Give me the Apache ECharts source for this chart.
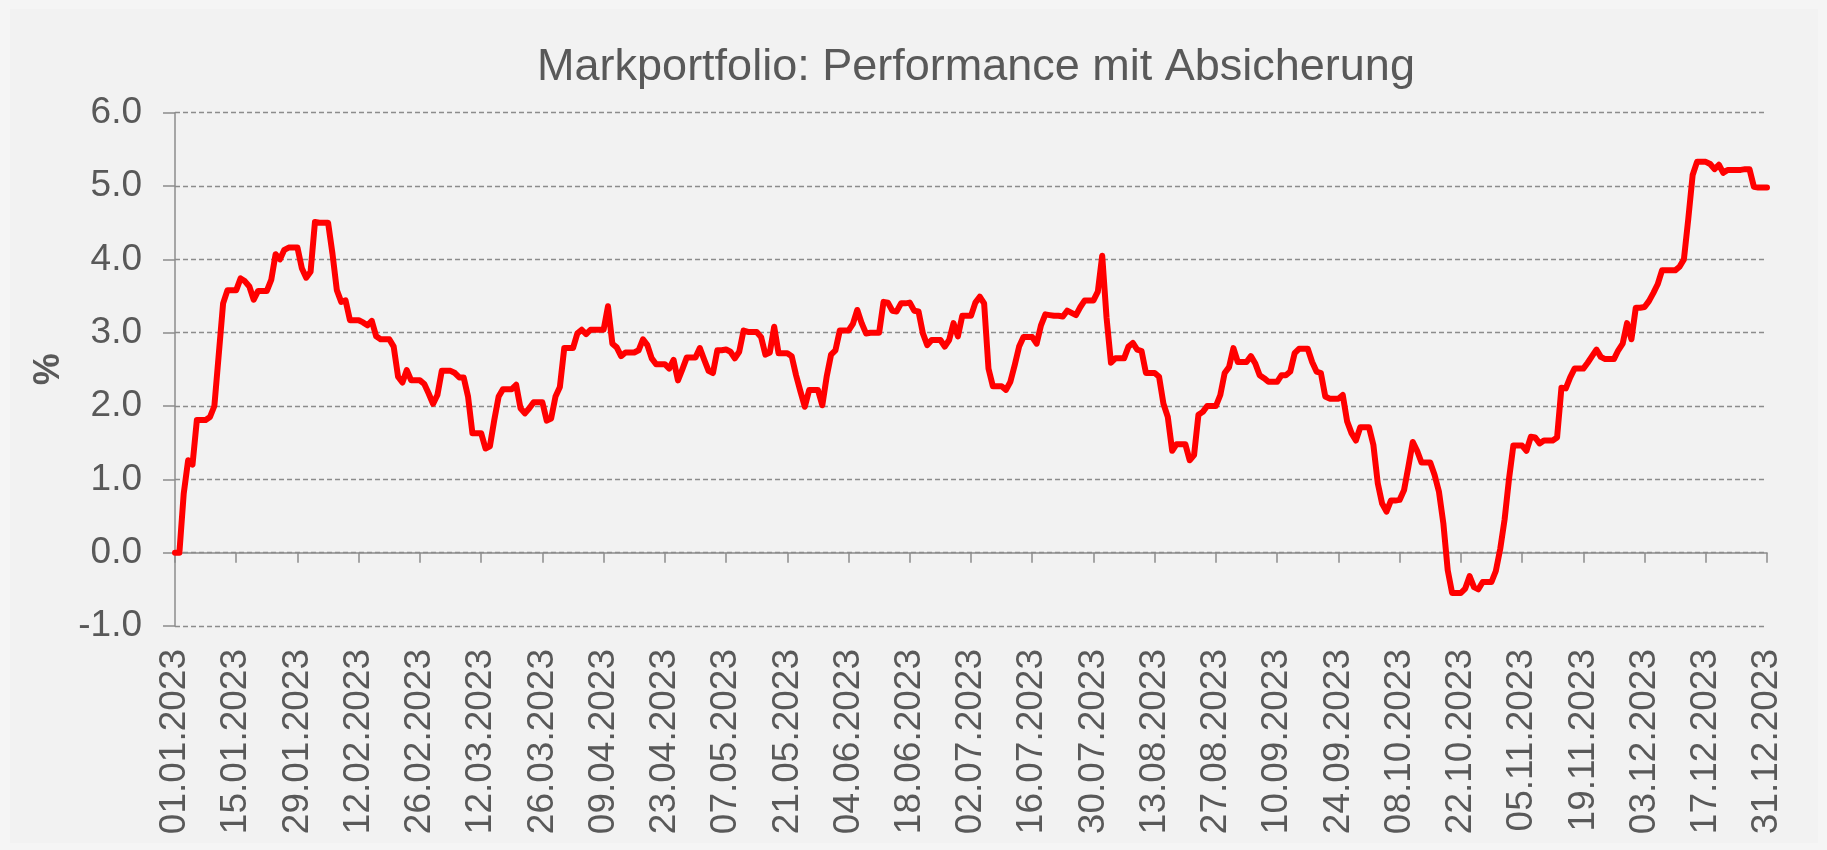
<!DOCTYPE html>
<html>
<head>
<meta charset="utf-8">
<script src="https://cdn.jsdelivr.net/npm/echarts@6/dist/echarts.min.js"></script>
<style>
  html, body { margin: 0; padding: 0; background: #f5f5f5; }
  #chart { width: 1827px; height: 850px; }
</style>
</head>
<body>
<div id="chart"></div>
<script>
// Title and axis texts
const chartTitle = 'Markportfolio: Performance mit Absicherung';
const yAxisName = '%';

// Tick labels shown on the x axis (every 14 days)
const tickLabels = [
  '01.01.2023','15.01.2023','29.01.2023','12.02.2023','26.02.2023','12.03.2023','26.03.2023',
  '09.04.2023','23.04.2023','07.05.2023','21.05.2023','04.06.2023','18.06.2023','02.07.2023',
  '16.07.2023','30.07.2023','13.08.2023','27.08.2023','10.09.2023','24.09.2023','08.10.2023',
  '22.10.2023','05.11.2023','19.11.2023','03.12.2023','17.12.2023','31.12.2023'
];

// Daily categories 01.01.2023 .. 31.12.2023
const categories = [];
for (let d = new Date(Date.UTC(2023, 0, 1)); d.getUTCFullYear() === 2023; d.setUTCDate(d.getUTCDate() + 1)) {
  const dd = String(d.getUTCDate()).padStart(2, '0');
  const mm = String(d.getUTCMonth() + 1).padStart(2, '0');
  categories.push(dd + '.' + mm + '.' + d.getUTCFullYear());
}

// Performance in %, one value per day (rows = weeks, Sunday..Saturday)
const performance = [
  0, 0, 0.81, 1.26, 1.2, 1.81, 1.81,
  1.81, 1.85, 2.0, 2.7, 3.4, 3.58, 3.58,
  3.58, 3.74, 3.7, 3.63, 3.45, 3.57, 3.57,
  3.57, 3.72, 4.07, 4.0, 4.13, 4.16, 4.16,
  4.16, 3.88, 3.75, 3.83, 4.51, 4.5, 4.5,
  4.5, 4.08, 3.58, 3.42, 3.44, 3.17, 3.17,
  3.17, 3.14, 3.1, 3.16, 2.95, 2.91, 2.91,
  2.91, 2.81, 2.4, 2.32, 2.49, 2.35, 2.35,
  2.35, 2.3, 2.17, 2.03, 2.15, 2.48, 2.48,
  2.48, 2.45, 2.39, 2.39, 2.13, 1.63, 1.63,
  1.63, 1.42, 1.45, 1.81, 2.13, 2.23, 2.23,
  2.23, 2.29, 1.97, 1.9, 1.97, 2.05, 2.05,
  2.05, 1.8, 1.83, 2.13, 2.26, 2.79, 2.79,
  2.79, 2.99, 3.04, 2.98, 3.04, 3.04, 3.04,
  3.04, 3.36, 2.85, 2.8, 2.68, 2.73, 2.73,
  2.73, 2.76, 2.91, 2.83, 2.65, 2.57, 2.57,
  2.57, 2.51, 2.63, 2.35, 2.5, 2.66, 2.66,
  2.66, 2.79, 2.63, 2.48, 2.45, 2.76, 2.76,
  2.77, 2.74, 2.65, 2.74, 3.03, 3.01, 3.01,
  3.01, 2.94, 2.7, 2.73, 3.08, 2.72, 2.72,
  2.72, 2.68, 2.42, 2.2, 1.99, 2.22, 2.22,
  2.22, 2.01, 2.4, 2.7, 2.76, 3.03, 3.03,
  3.03, 3.12, 3.31, 3.13, 2.99, 3.0, 3.0,
  3.0, 3.42, 3.41, 3.3, 3.29, 3.4, 3.4,
  3.41, 3.3, 3.29, 2.99, 2.83, 2.9, 2.9,
  2.9, 2.81, 2.9, 3.13, 2.95, 3.23, 3.23,
  3.23, 3.41, 3.49, 3.4, 2.51, 2.27, 2.27,
  2.27, 2.22, 2.33, 2.56, 2.81, 2.94, 2.94,
  2.94, 2.85, 3.1, 3.25, 3.24, 3.23, 3.23,
  3.22, 3.3, 3.27, 3.24, 3.35, 3.44, 3.44,
  3.44, 3.56, 4.05, 3.2, 2.59, 2.65, 2.65,
  2.65, 2.81, 2.86, 2.77, 2.75, 2.45, 2.45,
  2.45, 2.4, 2.03, 1.85, 1.39, 1.48, 1.48,
  1.48, 1.26, 1.33, 1.88, 1.92, 2.0, 2.0,
  2.0, 2.15, 2.45, 2.53, 2.79, 2.6, 2.6,
  2.6, 2.68, 2.58, 2.42, 2.38, 2.33, 2.33,
  2.33, 2.42, 2.42, 2.47, 2.72, 2.78, 2.78,
  2.78, 2.6, 2.47, 2.45, 2.13, 2.1, 2.1,
  2.1, 2.15, 1.79, 1.63, 1.53, 1.71, 1.71,
  1.71, 1.47, 0.95, 0.67, 0.56, 0.71, 0.71,
  0.72, 0.85, 1.17, 1.51, 1.39, 1.23, 1.23,
  1.23, 1.06, 0.83, 0.4, -0.24, -0.55, -0.55,
  -0.55, -0.49, -0.32, -0.47, -0.5, -0.4, -0.4,
  -0.4, -0.25, 0.05, 0.45, 1.0, 1.46, 1.46,
  1.46, 1.39, 1.58, 1.57, 1.49, 1.53, 1.53,
  1.53, 1.57, 2.25, 2.24, 2.39, 2.51, 2.51,
  2.51, 2.59, 2.68, 2.77, 2.67, 2.64, 2.64,
  2.64, 2.76, 2.85, 3.13, 2.91, 3.34, 3.34,
  3.35, 3.43, 3.54, 3.66, 3.85, 3.85, 3.85,
  3.85, 3.9, 4.0, 4.55, 5.15, 5.33, 5.33,
  5.33, 5.3, 5.23, 5.29, 5.18, 5.22, 5.22,
  5.22, 5.22, 5.23, 5.23, 4.99, 4.98, 4.98,
  4.98
];

const FONT = '"Liberation Sans", Arial, sans-serif';
const TEXT = '#595959';
const GREY = '#8c8c8c';

const showTick = (idx, val) => tickLabels.indexOf(categories[idx]) !== -1;

const chart = echarts.init(document.getElementById('chart'), null, { renderer: 'canvas' });
chart.setOption({
  backgroundColor: '#f5f5f5',
  animation: false,
  textStyle: { fontFamily: FONT },
  graphic: [
    {
      type: 'rect', z: -10, silent: true,
      shape: { x: 10, y: 9, width: 1808, height: 834 },
      style: { fill: '#f2f2f2' }
    },
    {
      type: 'text', silent: true,
      x: 976, y: 45,
      style: {
        text: chartTitle, fill: TEXT, align: 'center', verticalAlign: 'top',
        font: 'normal 45px ' + FONT
      }
    }
  ],
  grid: {
    left: 175, right: 60, top: 112.7, bottom: 224,
    containLabel: false, outerBoundsMode: 'none'
  },
  xAxis: {
    type: 'category',
    data: categories,
    boundaryGap: false,
    axisLine: { onZero: true, lineStyle: { color: GREY, width: 1.5 } },
    axisTick: { show: true, interval: showTick, length: 10, lineStyle: { color: GREY, width: 1.5 } },
    axisLabel: {
      interval: showTick, rotate: 90, margin: 23,
      color: TEXT, fontSize: 37, fontFamily: FONT
    },
    splitLine: { show: false }
  },
  yAxis: {
    type: 'value',
    min: -1, max: 6, interval: 1,
    name: yAxisName,
    nameLocation: 'middle',
    nameRotate: 90,
    nameGap: 108,
    nameTextStyle: { color: TEXT, fontSize: 36, fontWeight: 'bold', fontFamily: FONT },
    axisLine: { show: true, lineStyle: { color: GREY, width: 1.5 } },
    axisTick: { show: true, inside: false, length: 12, lineStyle: { color: GREY, width: 1.5 } },
    axisLabel: {
      margin: 33, color: TEXT, fontSize: 37, fontFamily: FONT,
      formatter: v => v.toFixed(1)
    },
    splitLine: { show: true, lineStyle: { color: GREY, width: 1.3, type: [5, 3] } }
  },
  series: [{
    type: 'line',
    data: performance,
    symbol: 'none',
    smooth: false,
    lineStyle: { color: '#ff0000', width: 6, join: 'round', cap: 'round' },
    z: 5
  }]
});
</script>
</body>
</html>
